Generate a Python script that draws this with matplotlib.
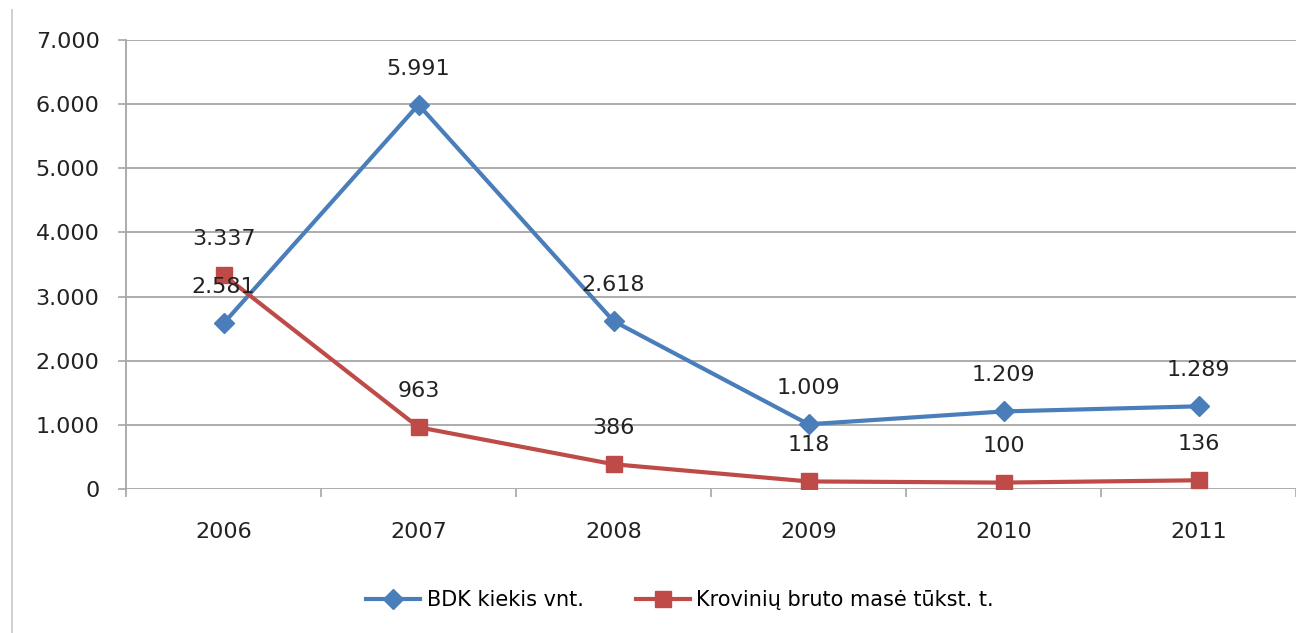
import matplotlib
import matplotlib.pyplot as plt
from matplotlib.lines import Line2D
from matplotlib.ticker import FuncFormatter

matplotlib.use('AGG')

years = ['2006', '2007', '2008', '2009', '2010', '2011']
bdk = [2581, 5991, 2618, 1009, 1209, 1289]
kroviniu = [3337, 963, 386, 118, 100, 136]

blue = '#4a7ebb'
red = '#be4b48'
grid_col = '#a6a6a6'


def thousands(v, pos=None):
    return f"{int(v):,}".replace(',', '.')


plt.rcParams['font.family'] = ['DejaVu Sans']

fig = plt.figure(figsize=(12.96, 6.33), dpi=100)
ax = fig.add_axes([126 / 1296, 1 - 489 / 633, 1 - 126 / 1296, (489 - 40) / 633])

x = list(range(len(years)))
ax.plot(x, bdk, color=blue, lw=3, marker='D', ms=10, label='BDK kiekis vnt.')
ax.plot(x, kroviniu, color=red, lw=3, marker='s', ms=12,
        label='Krovinių bruto masė tūkst. t.')

# data labels above each point
for xi, v in zip(x, bdk):
    ax.annotate(thousands(v), (xi, v), xytext=(0, 26), textcoords='offset points',
                ha='center', va='center', fontsize=16, color='#222222')
for xi, v in zip(x, kroviniu):
    ax.annotate(thousands(v), (xi, v), xytext=(0, 26), textcoords='offset points',
                ha='center', va='center', fontsize=16, color='#222222')

ax.set_ylim(0, 7000)
ax.set_yticks(range(0, 7001, 1000))
ax.yaxis.set_major_formatter(FuncFormatter(thousands))
ax.set_xlim(-0.5, (1296 - 224) / 196.2)

# category boundaries get ticks, labels sit between them
ax.set_xticks([i - 0.5 for i in range(len(years) + 1)])
ax.set_xticklabels([])
ax.set_xticks(x, minor=True)
ax.set_xticklabels(years, minor=True)
ax.tick_params(axis='x', which='major', length=6, width=1.2, color=grid_col)
ax.tick_params(axis='x', which='minor', length=0, pad=24, labelsize=16, labelcolor='#222222')
ax.tick_params(axis='y', length=6, width=1.2, color=grid_col, pad=13,
               labelsize=16, labelcolor='#222222')

ax.grid(axis='y', color=grid_col, lw=1.3)
ax.set_axisbelow(True)
for side in ['top', 'right', 'bottom']:
    ax.spines[side].set_visible(False)
ax.spines['left'].set_color(grid_col)
ax.spines['left'].set_linewidth(1.3)

fig.legend(loc='center', bbox_to_anchor=(680 / 1296, 1 - 600 / 633), ncol=2,
           frameon=False, fontsize=15, handlelength=2.6, columnspacing=2.5,
           handletextpad=0.3)

# left border of the original frame
fig.add_artist(Line2D([12 / 1296, 12 / 1296], [0, 1 - 10 / 633],
                      transform=fig.transFigure, color='#c8c8c8', lw=1.2))

plt.savefig('out.png', dpi=100)
